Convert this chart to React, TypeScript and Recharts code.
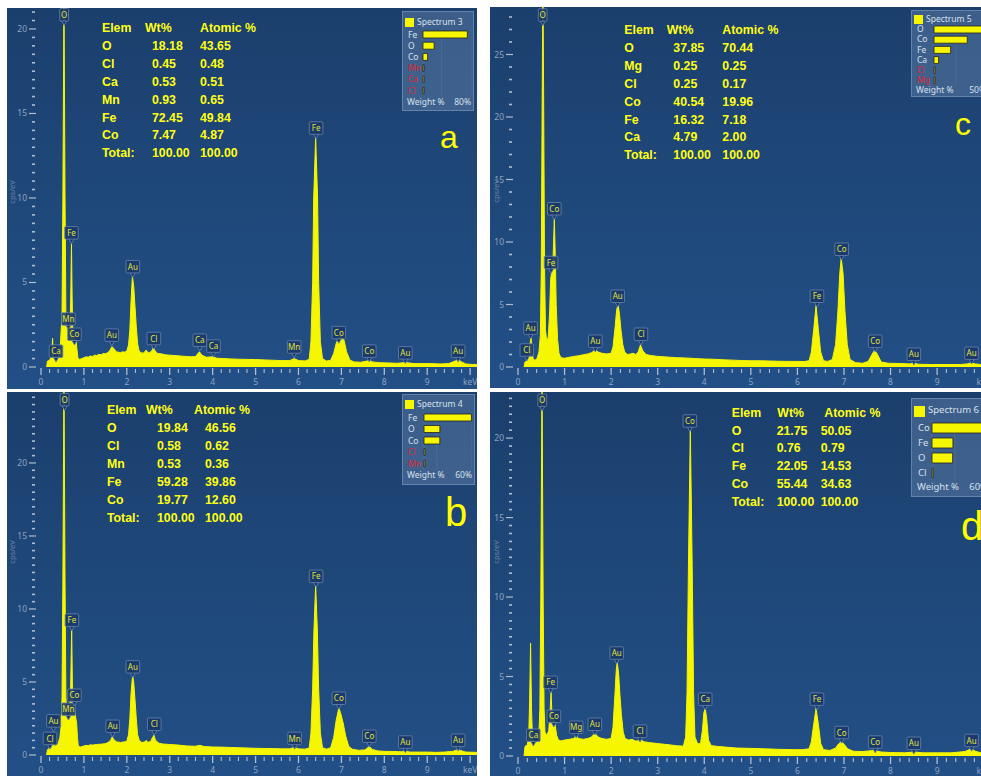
import React from "react"
import { ComposedChart, Area, Scatter, XAxis, YAxis, BarChart, Bar, CartesianGrid } from "recharts"

type Pt = [number, number]
type Tag = [string, number, number]

// ---- Spectrum 3 (a) : [keV, cps/eV]
const spectrumA: Pt[] = [
    [0.13, 0], [0.15, 0.35], [0.2, 0.4], [0.24, 0.6], [0.26, 1.2], [0.27, 1.7], [0.28, 1.0], [0.3, 0.5], [0.34, 0.55], [0.38, 0.45],
    [0.42, 0.7], [0.45, 1.2], [0.47, 2.2], [0.49, 3], [0.51, 10], [0.535, 22], [0.56, 10], [0.58, 3], [0.6, 2.4], [0.63, 2.2],
    [0.66, 2.3], [0.68, 2.6], [0.695, 4.5], [0.71, 7.3], [0.725, 4.2], [0.74, 2.0], [0.76, 1.7], [0.78, 1.8], [0.8, 1.6], [0.82, 1.5],
    [0.84, 1.0], [0.86, 0.55], [0.9, 0.45], [0.95, 0.5], [1.0, 0.55], [1.05, 0.6], [1.1, 0.58], [1.15, 0.65], [1.2, 0.62], [1.25, 0.7],
    [1.3, 0.68], [1.35, 0.75], [1.4, 0.72], [1.45, 0.8], [1.5, 0.78], [1.55, 0.85], [1.6, 0.95], [1.65, 1.2], [1.7, 1.1], [1.75, 0.9],
    [1.8, 0.88], [1.85, 0.85], [1.9, 0.9], [1.95, 0.88], [2.0, 0.95], [2.04, 1.3], [2.07, 2.2], [2.1, 4.0], [2.13, 5.35], [2.16, 4.8],
    [2.19, 3.6], [2.22, 2.4], [2.25, 1.4], [2.28, 1.0], [2.32, 0.85], [2.38, 0.82], [2.42, 0.9], [2.45, 1.0], [2.48, 0.88], [2.53, 0.85],
    [2.58, 0.95], [2.62, 1.15], [2.66, 0.95], [2.72, 0.8], [2.8, 0.78], [2.9, 0.72], [3.0, 0.7], [3.1, 0.68], [3.2, 0.66], [3.3, 0.64],
    [3.4, 0.62], [3.5, 0.6], [3.6, 0.62], [3.69, 0.9], [3.75, 0.7], [3.85, 0.58], [4.0, 0.6], [4.1, 0.52], [4.25, 0.5], [4.4, 0.48],
    [4.6, 0.46], [4.8, 0.45], [5.0, 0.44], [5.2, 0.42], [5.4, 0.4], [5.6, 0.38], [5.8, 0.38], [5.9, 0.5], [6.0, 0.38], [6.15, 0.36],
    [6.25, 0.45], [6.29, 1.5], [6.33, 5.0], [6.355, 10], [6.4, 13.6], [6.445, 10], [6.47, 5.0], [6.51, 1.5], [6.56, 0.5], [6.65, 0.35],
    [6.75, 0.4], [6.82, 0.8], [6.88, 1.4], [6.94, 1.75], [7.0, 1.8], [7.06, 1.6], [7.12, 0.9], [7.2, 0.4], [7.3, 0.3], [7.45, 0.28],
    [7.6, 0.35], [7.65, 0.42], [7.72, 0.3], [7.9, 0.25], [8.1, 0.24], [8.3, 0.22], [8.5, 0.26], [8.7, 0.2], [8.9, 0.2], [9.1, 0.2],
    [9.3, 0.18], [9.5, 0.2], [9.65, 0.35], [9.72, 0.45], [9.8, 0.3], [9.9, 0.18], [10.05, 0.15], [10.16, 0.15],
]
const tagsA: Tag[] = [
    ["Ca", 0.35, 0.3], ["O", 0.54, 20.2], ["Mn", 0.64, 2.2], ["Fe", 0.71, 7.3], ["Co", 0.78, 1.3], ["Au", 1.65, 1.25],
    ["Au", 2.14, 5.3], ["Cl", 2.63, 1.05], ["Ca", 3.7, 0.95], ["Ca", 4.02, 0.6], ["Mn", 5.9, 0.55], ["Fe", 6.41, 13.5],
    ["Co", 6.94, 1.4], ["Co", 7.65, 0.3], ["Au", 8.49, 0.2], ["Au", 9.72, 0.3],
]
const elemsA = ["O", "Cl", "Ca", "Mn", "Fe", "Co"]
const wtA = [18.18, 0.45, 0.53, 0.93, 72.45, 7.47]
const atA = [43.65, 0.48, 0.51, 0.65, 49.84, 4.87]
const legendElsA = ["Fe", "O", "Co", "Mn", "Ca", "Cl"]
const legendWtA = [72.45, 18.18, 7.47, 0.93, 0.53, 0.45]
const legendRedA = ["Mn", "Ca", "Cl"]

// ---- Spectrum 4 (b)
const spectrumB: Pt[] = [
    [0.13, 0], [0.15, 0.35], [0.2, 0.5], [0.23, 0.7], [0.26, 1.0], [0.28, 0.8], [0.32, 0.6], [0.36, 0.65], [0.4, 0.8], [0.44, 1.2],
    [0.47, 2.0], [0.49, 4], [0.51, 12], [0.535, 26], [0.56, 12], [0.58, 4], [0.6, 2.8], [0.63, 2.6], [0.66, 2.7], [0.69, 4.5],
    [0.715, 8.7], [0.735, 4.0], [0.76, 3.0], [0.78, 3.1], [0.8, 2.7], [0.83, 2.2], [0.85, 1.2], [0.87, 0.6], [0.92, 0.55], [1.0, 0.62],
    [1.05, 0.66], [1.1, 0.64], [1.15, 0.7], [1.2, 0.68], [1.3, 0.72], [1.4, 0.74], [1.5, 0.78], [1.56, 0.85], [1.62, 1.0], [1.66, 1.25],
    [1.7, 1.05], [1.76, 0.9], [1.85, 0.86], [1.95, 0.9], [2.0, 0.95], [2.04, 1.4], [2.07, 2.5], [2.1, 4.3], [2.135, 5.5], [2.16, 5.0],
    [2.19, 3.8], [2.22, 2.5], [2.25, 1.4], [2.29, 1.0], [2.35, 0.85], [2.42, 0.9], [2.45, 1.0], [2.49, 0.88], [2.55, 0.9], [2.6, 1.2],
    [2.63, 1.35], [2.67, 1.0], [2.75, 0.8], [2.85, 0.75], [3.0, 0.72], [3.2, 0.68], [3.4, 0.62], [3.6, 0.6], [3.7, 0.66], [3.8, 0.58],
    [4.0, 0.55], [4.2, 0.54], [4.4, 0.52], [4.6, 0.5], [4.8, 0.48], [5.0, 0.46], [5.2, 0.45], [5.4, 0.44], [5.6, 0.42], [5.8, 0.42],
    [5.9, 0.52], [6.0, 0.42], [6.15, 0.4], [6.25, 0.48], [6.29, 1.5], [6.33, 4.5], [6.36, 8.5], [6.4, 11.6], [6.44, 8.5], [6.47, 4.5],
    [6.51, 1.5], [6.56, 0.5], [6.65, 0.4], [6.75, 0.5], [6.82, 1.2], [6.88, 2.4], [6.94, 3.2], [6.98, 2.9], [7.04, 2.2], [7.1, 1.3],
    [7.17, 0.6], [7.25, 0.4], [7.4, 0.32], [7.55, 0.35], [7.65, 0.58], [7.72, 0.38], [7.85, 0.28], [8.0, 0.25], [8.2, 0.24], [8.4, 0.22],
    [8.5, 0.25], [8.6, 0.2], [8.8, 0.2], [9.0, 0.2], [9.2, 0.18], [9.4, 0.2], [9.6, 0.25], [9.7, 0.35], [9.78, 0.3], [9.9, 0.2], [10.16, 0.18],
]
const tagsB: Tag[] = [
    ["Cl", 0.21, 0.4], ["Au", 0.29, 1.6], ["O", 0.55, 23.6], ["Mn", 0.64, 2.4], ["Fe", 0.72, 8.5], ["Co", 0.78, 3.36],
    ["Au", 1.67, 1.23], ["Au", 2.14, 5.3], ["Cl", 2.64, 1.37], ["Mn", 5.91, 0.4], ["Fe", 6.41, 11.5], ["Co", 6.94, 3.15],
    ["Co", 7.65, 0.55], ["Au", 8.49, 0.15], ["Au", 9.72, 0.27],
]
const elemsB = ["O", "Cl", "Mn", "Fe", "Co"]
const wtB = [19.84, 0.58, 0.53, 59.28, 19.77]
const atB = [46.56, 0.62, 0.36, 39.86, 12.6]
const legendElsB = ["Fe", "O", "Co", "Cl", "Mn"]
const legendWtB = [59.28, 19.84, 19.77, 0.58, 0.53]
const legendRedB = ["Cl", "Mn"]

// ---- Spectrum 5 (c)
const spectrumC: Pt[] = [
    [0.13, 0], [0.15, 0.4], [0.2, 0.5], [0.24, 0.9], [0.26, 1.8], [0.28, 2.4], [0.3, 1.2], [0.33, 0.6], [0.37, 0.55], [0.41, 0.7],
    [0.45, 1.2], [0.48, 2.5], [0.5, 8], [0.52, 22], [0.535, 31], [0.55, 22], [0.57, 8], [0.59, 3], [0.62, 2.0], [0.65, 2.4],
    [0.68, 4.5], [0.7, 7.0], [0.72, 7.5], [0.74, 7.2], [0.76, 9.5], [0.78, 11.9], [0.8, 9], [0.82, 5], [0.85, 2.2], [0.88, 1.1],
    [0.92, 0.75], [1.0, 0.7], [1.1, 0.78], [1.2, 0.85], [1.3, 0.9], [1.4, 0.98], [1.5, 1.05], [1.58, 1.15], [1.66, 1.36], [1.72, 1.2],
    [1.8, 1.1], [1.9, 1.05], [2.0, 1.1], [2.04, 1.6], [2.08, 3.0], [2.12, 4.6], [2.15, 5.0], [2.18, 4.2], [2.21, 3.0], [2.25, 1.8],
    [2.29, 1.2], [2.35, 1.0], [2.42, 1.05], [2.47, 1.1], [2.53, 1.0], [2.58, 1.2], [2.63, 1.76], [2.68, 1.3], [2.75, 1.0], [2.85, 0.92],
    [3.0, 0.85], [3.2, 0.8], [3.4, 0.75], [3.6, 0.72], [3.8, 0.68], [4.0, 0.64], [4.2, 0.62], [4.4, 0.58], [4.6, 0.55], [4.8, 0.52],
    [5.0, 0.5], [5.2, 0.5], [5.4, 0.48], [5.6, 0.46], [5.8, 0.45], [6.0, 0.45], [6.15, 0.44], [6.25, 0.5], [6.3, 1.2], [6.35, 3.0],
    [6.4, 4.9], [6.45, 3.0], [6.5, 1.2], [6.56, 0.5], [6.65, 0.45], [6.75, 0.6], [6.82, 1.8], [6.87, 4.5], [6.91, 7.5], [6.94, 8.7],
    [6.98, 7.5], [7.02, 4.5], [7.07, 1.8], [7.13, 0.6], [7.25, 0.35], [7.4, 0.3], [7.52, 0.45], [7.6, 1.0], [7.66, 1.36], [7.72, 1.0],
    [7.8, 0.4], [7.95, 0.3], [8.2, 0.28], [8.4, 0.25], [8.5, 0.3], [8.6, 0.22], [8.9, 0.2], [9.2, 0.2], [9.5, 0.2], [9.65, 0.25],
    [9.73, 0.32], [9.82, 0.25], [9.94, 0.2], [10.2, 0.2],
]
const tagsC: Tag[] = [
    ["Cl", 0.19, 0.5], ["Au", 0.27, 2.25], ["O", 0.53, 27.3], ["Fe", 0.71, 7.5], ["Co", 0.78, 11.8], ["Au", 1.66, 1.2],
    ["Au", 2.14, 4.8], ["Cl", 2.64, 1.76], ["Fe", 6.42, 4.8], ["Co", 6.95, 8.56], ["Co", 7.67, 1.2], ["Au", 8.5, 0.16],
    ["Au", 9.74, 0.24],
]
const elemsC = ["O", "Mg", "Cl", "Co", "Fe", "Ca"]
const wtC = [37.85, 0.25, 0.25, 40.54, 16.32, 4.79]
const atC = [70.44, 0.25, 0.17, 19.96, 7.18, 2.0]
const legendElsC = ["O", "Co", "Fe", "Ca", "Cl", "Mg"]
const legendWtC = [47, 32, 16, 4.4, 0.25, 0.25]
const legendRedC = ["Cl", "Mg"]

// ---- Spectrum 6 (d)
const spectrumD: Pt[] = [
    [0.13, 0], [0.15, 0.6], [0.2, 0.7], [0.23, 1.2], [0.25, 3.5], [0.27, 7.1], [0.29, 3.0], [0.31, 1.2], [0.34, 0.9], [0.38, 0.8],
    [0.42, 0.9], [0.45, 1.4], [0.47, 3], [0.49, 10], [0.515, 24], [0.54, 10], [0.56, 3], [0.58, 1.5], [0.62, 1.3], [0.66, 1.6],
    [0.69, 2.8], [0.71, 4.0], [0.73, 2.6], [0.76, 2.2], [0.78, 2.3], [0.8, 1.9], [0.83, 1.3], [0.87, 1.0], [0.92, 0.95], [1.0, 1.0],
    [1.1, 1.05], [1.2, 1.1], [1.25, 1.3], [1.3, 1.1], [1.4, 1.05], [1.5, 1.1], [1.58, 1.2], [1.65, 1.43], [1.72, 1.2], [1.8, 1.1],
    [1.9, 1.05], [2.0, 1.1], [2.04, 1.8], [2.08, 3.8], [2.11, 5.4], [2.13, 5.9], [2.16, 5.2], [2.19, 3.8], [2.22, 2.6], [2.26, 1.5],
    [2.3, 1.1], [2.38, 1.0], [2.45, 1.05], [2.52, 0.95], [2.58, 0.95], [2.63, 1.05], [2.7, 0.9], [2.8, 0.85], [3.0, 0.78], [3.2, 0.72],
    [3.4, 0.65], [3.55, 0.62], [3.6, 1.2], [3.63, 4], [3.66, 12], [3.7, 20.6], [3.74, 12], [3.77, 4], [3.8, 1.2], [3.86, 0.75],
    [3.92, 0.8], [3.96, 1.6], [3.99, 2.7], [4.02, 3.0], [4.05, 2.4], [4.09, 1.0], [4.15, 0.65], [4.3, 0.6], [4.5, 0.55], [4.7, 0.5],
    [5.0, 0.48], [5.3, 0.45], [5.6, 0.42], [5.9, 0.4], [6.1, 0.4], [6.25, 0.45], [6.3, 0.9], [6.35, 2.0], [6.4, 3.0], [6.45, 2.0],
    [6.5, 0.8], [6.56, 0.4], [6.7, 0.35], [6.82, 0.5], [6.88, 0.75], [6.94, 0.9], [7.0, 0.75], [7.08, 0.45], [7.2, 0.3], [7.4, 0.28],
    [7.65, 0.35], [7.8, 0.25], [8.0, 0.22], [8.3, 0.2], [8.5, 0.25], [8.7, 0.2], [9.0, 0.2], [9.3, 0.2], [9.6, 0.28], [9.73, 0.45],
    [9.82, 0.3], [9.94, 0.2], [10.2, 0.2],
]
const tagsD: Tag[] = [
    ["Ca", 0.33, 0.63], ["O", 0.52, 21.7], ["Fe", 0.7, 3.96], ["Co", 0.77, 1.82], ["Mg", 1.25, 1.13], ["Au", 1.65, 1.32],
    ["Au", 2.12, 5.8], ["Cl", 2.62, 0.88], ["Co", 3.69, 20.4], ["Ca", 4.02, 2.9], ["Fe", 6.42, 2.9], ["Co", 6.95, 0.8],
    ["Co", 7.67, 0.2], ["Au", 8.5, 0.12], ["Au", 9.74, 0.3],
]
const elemsD = ["O", "Cl", "Fe", "Co"]
const wtD = [21.75, 0.76, 22.05, 55.44]
const atD = [50.05, 0.79, 14.53, 34.63]
const legendElsD = ["Co", "Fe", "O", "Cl"]
const legendWtD = [55.44, 22.05, 21.75, 0.76]
const legendRedD: string[] = []

const yMajorAB = [0, 5, 10, 15, 20]
const yMajorC = [0, 5, 10, 15, 20, 25]
const xMajor = [0, 1, 2, 3, 4, 5, 6, 7, 8, 9]

const YELLOW = "#f6f600"
const TICK_TXT = "#8ea4c2"
const TICK_LINE = "#aebdd1"
const SANS = "'Noto Sans', 'DejaVu Sans', sans-serif"
const BOLD = "'Liberation Sans', Arial, sans-serif"

function steps(max: number, step: number) {
    const n = Math.floor(max / step + 1e-6)
    return Array.from({ length: n + 1 }, (_, i) => Math.round(i * step * 100) / 100)
}

function PeakTag(props: any) {
    const { cx, cy, payload } = props
    if (cx == null || cy == null) return null
    const w = payload.el.length * 4.8 + 4
    return (
        <g>
            <path d={`M${cx - 2.5},${cy - 4.5} L${cx},${cy} L${cx + 2.5},${cy - 4.5}`} fill="#19386a" stroke="#6a84a9" strokeWidth={0.8} />
            <rect x={cx - w / 2} y={cy - 17} width={w} height={12.5} rx={1} fill="#19386a" fillOpacity={0.9} stroke="#6a84a9" strokeWidth={0.8} />
            <text x={cx} y={cy - 7.6} textAnchor="middle" fontSize={8} fontFamily={SANS} fill="#e4e436">{payload.el}</text>
        </g>
    )
}

function WeightLegend({ cfg }: { cfg: any }) {
    const { left, top, width, height, title, els, wts, red, scale, titleY, rowY, rowH, nameX, barX, barW, footerY, font, sq } = cfg
    const rows = els.map((el: string, i: number) => ({ el, wt: wts[i] }))
    const chartLeft = nameX - 1
    return (
        <div style={{ position: "absolute", left, top, width, height, background: "rgba(150,178,215,0.27)", border: "1px solid rgba(175,198,228,0.35)", boxSizing: "border-box", fontFamily: SANS, color: "#d9e1ec" }}>
            <div style={{ position: "absolute", left: 2, top: titleY - sq / 2, width: sq, height: sq, background: YELLOW }} />
            <div style={{ position: "absolute", left: sq + 5, top: titleY - font / 2 - 1, fontSize: font, lineHeight: `${font + 1}px`, whiteSpace: "nowrap" }}>{title}</div>
            <div style={{ position: "absolute", left: chartLeft, top: rowY - rowH / 2 }}>
                <BarChart width={barX - chartLeft + barW} height={rows.length * rowH} data={rows} layout="vertical" margin={{ top: 0, right: 0, bottom: 0, left: 0 }} barCategoryGap={0}>
                    <CartesianGrid horizontal={false} stroke="rgba(255,255,255,0.08)" />
                    <XAxis type="number" domain={[0, scale]} hide tickCount={9} />
                    <YAxis type="category" dataKey="el" width={barX - chartLeft} axisLine={false} tickLine={false} interval={0}
                        tick={(p: any) => (
                            <text x={1} y={p.y} dy={font * 0.36} fontSize={font} fontFamily={SANS} fill={red.includes(p.payload.value) ? "#e0252e" : "#d9e1ec"}>{p.payload.value}</text>
                        )} />
                    <Bar dataKey="wt" fill={YELLOW} stroke="#222" strokeWidth={0.8} barSize={Math.round(rowH * 0.64)} minPointSize={1} isAnimationActive={false} />
                </BarChart>
            </div>
            <div style={{ position: "absolute", left: nameX - 1, top: footerY - font / 2 - 1, fontSize: font, lineHeight: `${font + 1}px`, whiteSpace: "nowrap" }}>Weight %</div>
            <div style={{ position: "absolute", right: 2, top: footerY - font / 2 - 1, fontSize: font, lineHeight: `${font + 1}px` }}>{scale}%</div>
        </div>
    )
}

function Panel({ cfg }: { cfg: any }) {
    const { left, top, width, height, chartW, plotLeft, xMax, yMax, xAxisH, yMajor, yStep, spectrum, tags, table, letter, legend } = cfg
    const plotBottom = height - xAxisH
    const data = spectrum.map(([kev, cps]: Pt) => ({ kev, cps }))
    const tagData = tags.map(([el, kev, cps]: Tag) => ({ el, kev, cps }))
    const xTicks = steps(Math.min(xMax, 10), 0.2)
    const yTicks = steps(yMax, yStep)
    const rows: string[][] = [
        ["Elem", "Wt%", "Atomic %"],
        ...table.elems.map((e: string, i: number) => [e, table.wt[i].toFixed(2), table.at[i].toFixed(2)]),
        ["Total:", "100.00", "100.00"],
    ]
    return (
        <div style={{ position: "absolute", left, top, width, height, overflow: "hidden", background: "linear-gradient(180deg, #1b3f6d 0%, #1f497b 55%, #224f86 100%)" }}>
            <ComposedChart width={chartW} height={height} data={data} margin={{ top: 0, right: 0, bottom: 0, left: 0 }}>
                <XAxis type="number" dataKey="kev" domain={[0, xMax]} ticks={xTicks} interval={0} height={xAxisH} axisLine={false} tickLine={false} allowDataOverflow
                    tick={(p: any) => {
                        const v = p.payload.value
                        const major = xMajor.includes(v) || Math.abs(v - 10) < 1e-6
                        return (
                            <g>
                                <line x1={p.x} x2={p.x} y1={plotBottom + (major ? 1 : 2)} y2={plotBottom + (major ? 8 : 6)} stroke={TICK_LINE} strokeWidth={major ? 1.3 : 1.1} />
                                {major && <text x={p.x} y={plotBottom + 18} textAnchor="middle" fontSize={8.5} fontFamily={SANS} fill={TICK_TXT}>{Math.abs(v - 10) < 1e-6 ? "keV" : v}</text>}
                            </g>
                        )
                    }} />
                <YAxis type="number" domain={[0, yMax]} ticks={yTicks} interval={0} width={plotLeft} axisLine={false} tickLine={false} allowDataOverflow
                    tick={(p: any) => {
                        const v = p.payload.value
                        const major = yMajor.includes(v)
                        return major ? (
                            <g>
                                <line x1={plotLeft - 12} x2={plotLeft - 5} y1={p.y} y2={p.y} stroke={TICK_LINE} strokeWidth={1.2} />
                                <text x={plotLeft - 14} y={p.y} dy={3} textAnchor="end" fontSize={8.5} fontFamily={SANS} fill={TICK_TXT}>{v}</text>
                            </g>
                        ) : (
                            <rect x={plotLeft - 9} y={p.y - 0.8} width={3} height={1.6} fill={TICK_LINE} />
                        )
                    }} />
                <Area type="linear" dataKey="cps" stroke={YELLOW} strokeWidth={1} fill={YELLOW} fillOpacity={1} isAnimationActive={false} />
                <Scatter data={tagData} dataKey="cps" shape={PeakTag} isAnimationActive={false} />
            </ComposedChart>
            <svg width={width} height={height} style={{ position: "absolute", left: 0, top: 0, pointerEvents: "none" }}>
                <text transform={`translate(${cfg.cpsX},${cfg.cpsY}) rotate(-90)`} textAnchor="middle" fontSize={7.5} fontFamily={SANS} fill="#6d85a7">cps/eV</text>
                {rows.map((r, i) => (
                    <g key={i} fontFamily={BOLD} fontWeight="bold" fontSize={12.3} fill="#ffff14">
                        <text x={table.cols[0]} y={table.y0 + i * table.gap}>{r[0]}</text>
                        <text x={i === 0 ? table.cols[1] : table.cols[2]} y={table.y0 + i * table.gap}>{r[1]}</text>
                        <text x={i === 0 ? table.cols[3] : table.cols[4]} y={table.y0 + i * table.gap}>{r[2]}</text>
                    </g>
                ))}
                <text x={letter.x} y={letter.y} fontSize={letter.size} fontFamily="'Liberation Sans', Arial, sans-serif" fill="#ffff00">{letter.t}</text>
            </svg>
            <WeightLegend cfg={legend} />
        </div>
    )
}

const panels = [
    {
        left: 7, top: 8, width: 470, height: 381, chartW: 470, plotLeft: 34, xMax: 10.16, yMax: 21.24, xAxisH: 22,
        yMajor: yMajorAB, yStep: 0.5, spectrum: spectrumA, tags: tagsA, cpsX: 8, cpsY: 184,
        table: { elems: elemsA, wt: wtA, at: atA, cols: [95, 138, 145, 193, 193], y0: 24.3, gap: 17.85 },
        letter: { t: "a", x: 433, y: 140, size: 32 },
        legend: { left: 395, top: 3, width: 72, height: 100, title: "Spectrum 3", els: legendElsA, wts: legendWtA, red: legendRedA, scale: 80, titleY: 10, rowY: 23, rowH: 11.2, nameX: 5, barX: 20, barW: 49, footerY: 90, font: 8.5, sq: 9 },
    },
    {
        left: 7, top: 392, width: 470, height: 384, chartW: 470, plotLeft: 34, xMax: 10.16, yMax: 24.86, xAxisH: 21,
        yMajor: yMajorAB, yStep: 0.5, spectrum: spectrumB, tags: tagsB, cpsX: 8, cpsY: 160,
        table: { elems: elemsB, wt: wtB, at: atB, cols: [100, 139, 150, 187, 198], y0: 22.3, gap: 17.9 },
        letter: { t: "b", x: 438, y: 134, size: 40 },
        legend: { left: 395, top: 2, width: 73, height: 91, title: "Spectrum 4", els: legendElsB, wts: legendWtB, red: legendRedB, scale: 60, titleY: 9, rowY: 22.7, rowH: 11.5, nameX: 5, barX: 21, barW: 48, footerY: 80.7, font: 8.5, sq: 9 },
    },
    {
        left: 490, top: 7, width: 491, height: 381, chartW: 503, plotLeft: 28, xMax: 10.2, yMax: 28.8, xAxisH: 21,
        yMajor: yMajorC, yStep: 1, spectrum: spectrumC, tags: tagsC, cpsX: 9, cpsY: 184,
        table: { elems: elemsC, wt: wtC, at: atC, cols: [134.3, 176.7, 183.3, 232.3, 232.3], y0: 27.3, gap: 17.86 },
        letter: { t: "c", x: 465, y: 128, size: 32 },
        legend: { left: 421, top: 3, width: 78, height: 87, title: "Spectrum 5", els: legendElsC, wts: legendWtC, red: legendRedC, scale: 50, titleY: 8, rowY: 18.3, rowH: 10.2, nameX: 5, barX: 22, barW: 52, footerY: 79, font: 8.5, sq: 9 },
    },
    {
        left: 490, top: 392, width: 491, height: 384, chartW: 503, plotLeft: 28, xMax: 10.2, yMax: 22.9, xAxisH: 20,
        yMajor: yMajorAB, yStep: 0.5, spectrum: spectrumD, tags: tagsD, cpsX: 9, cpsY: 160,
        table: { elems: elemsD, wt: wtD, at: atD, cols: [241.7, 287.3, 286.7, 334.3, 330.7], y0: 24.6, gap: 17.9 },
        letter: { t: "d", x: 471, y: 148, size: 40 },
        legend: { left: 421, top: 6, width: 80, height: 99, title: "Spectrum 6", els: legendElsD, wts: legendWtD, red: legendRedD, scale: 60, titleY: 12, rowY: 28, rowH: 15, nameX: 6, barX: 20, barW: 57, footerY: 89, font: 9.5, sq: 11 },
    },
]

export default function App() {
    return (
        <div style={{ position: "absolute", left: 0, top: 0, width: 981, height: 776, background: "#ffffff", overflow: "hidden" }}>
            {panels.map((p, i) => <Panel key={i} cfg={p} />)}
        </div>
    )
}
